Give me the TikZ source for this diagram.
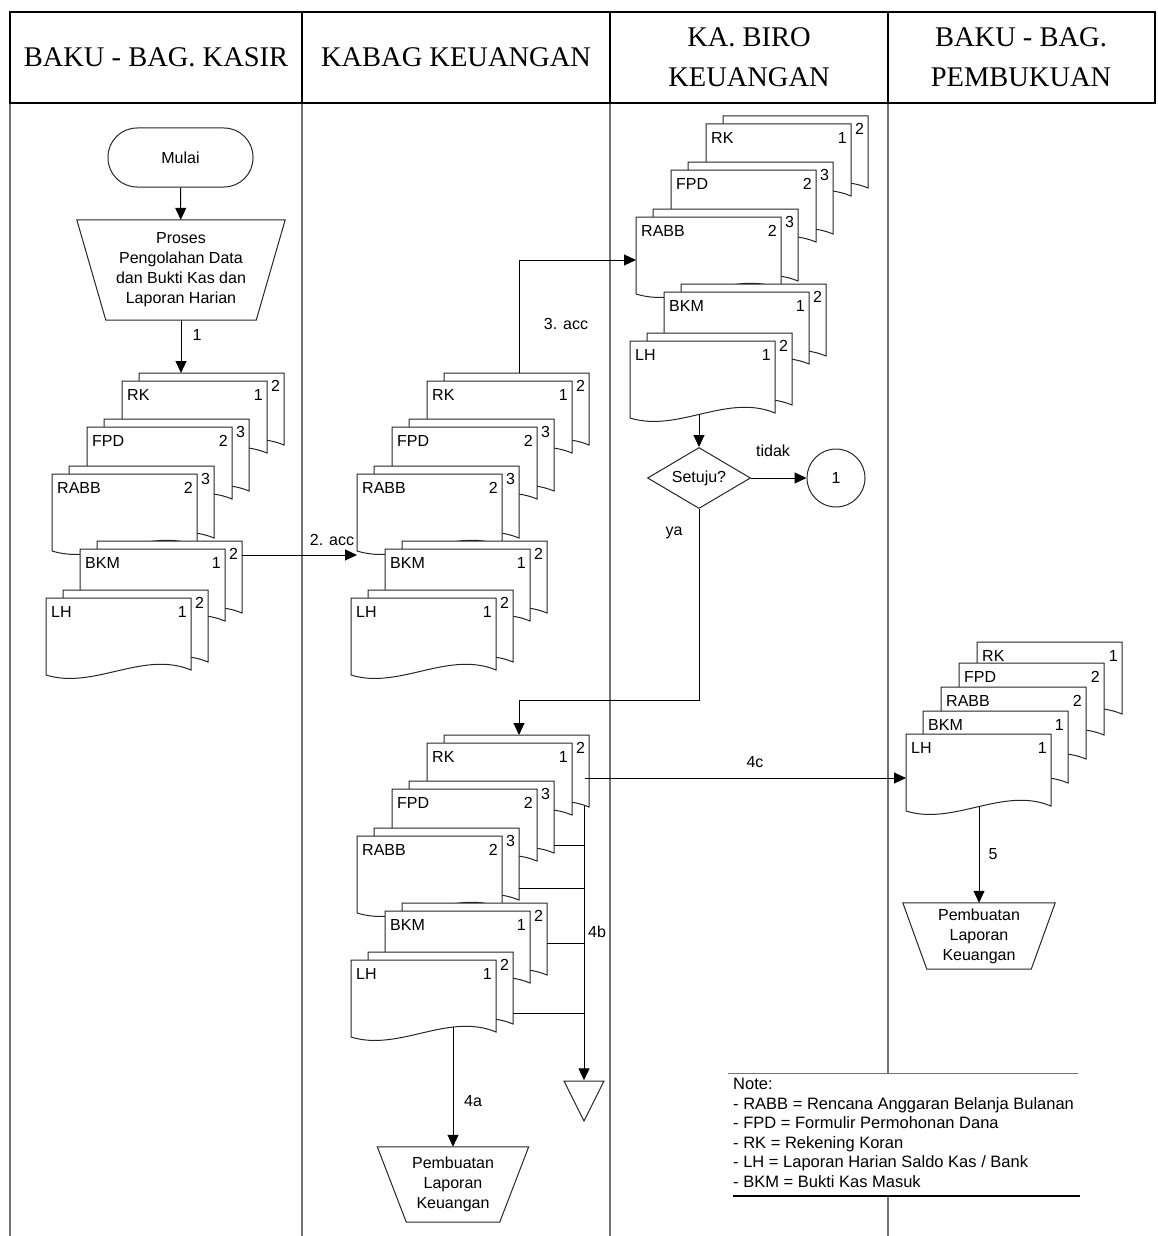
\documentclass[tikz,border=0pt]{standalone}
\usepackage{fontspec}
\setmainfont{Liberation Sans}
\newfontfamily\headfont{Liberation Serif}
\usepackage{tikz}
\usetikzlibrary{positioning}
\usetikzlibrary{arrows.meta}
\usetikzlibrary{shapes.geometric}
\pgfdeclarelayer{lanelayer}
\pgfdeclarelayer{nodelayer}
\pgfdeclarelayer{edgelayer}
\pgfsetlayers{lanelayer,nodelayer,edgelayer,main}

\tikzset{
    docline/.style={draw=black!85, line width=1pt, fill=white},
    doclabel/.style={inner sep=0pt, font=\fontsize{16}{19}\selectfont},
    flowtext/.style={inner sep=0pt, font=\fontsize{16}{20}\selectfont, align=center},
    shapeline/.style={draw=black!85, line width=1pt},
    headline/.style={draw=black, line width=1.2pt},
    lane/.style={draw=black!55, line width=1.2pt},
    headtext/.style={font=\headfont\fontsize{28.5}{40}\selectfont, align=center},
    flow/.style={draw=black, line width=1pt, -{Triangle[length=12pt, width=11pt]}},
    link/.style={draw=black, line width=1pt},
    terminal/.style={shapeline, rounded corners=29pt, minimum width=145, minimum height=59, flowtext},
    manop/.style={inner sep=0pt, flowtext},
    decision/.style={shapeline, diamond, aspect=1.69, minimum width=103, minimum height=61, flowtext},
    connector/.style={shapeline, circle, minimum size=58, flowtext},
}

% one page with wavy bottom, top left corner at (#1,#2)
\newcommand{\docpage}[4]{%
    \path[docline] (#1,#2) -- (#1+145,#2) -- (#1+145,#2+72)
        .. controls (#1+97,#2+52) and (#1+48,#2+92) .. (#1,#2+77) -- cycle;
    \node [doclabel, anchor=west] (-#3) at (#1+5, #2+14) {#3};
    \node [doclabel, anchor=east] (-#3n) at (#1+141, #2+14) {#4};
}
% page with a copy behind it
\newcommand{\doccopy}[5]{%
    \path[docline] (#1+17,#2-8) -- (#1+162,#2-8) -- (#1+162,#2+64)
        .. controls (#1+114,#2+44) and (#1+65,#2+84) .. (#1+17,#2+69) -- cycle;
    \node [doclabel] (-#3c) at (#1+153.5, #2+5) {#5};
    \docpage{#1}{#2}{#3}{#4}
}
% trapezoid round a manop node
\newcommand{\manframe}[2]{%
    \draw[shapeline] (#1.north west) -- (#1.north east)
        -- ([xshift=-#2pt]#1.south east) -- ([xshift=#2pt]#1.south west) -- cycle;
}

\tikzset{
    docstack/.pic={
        \doccopy{0}{0}{RK}{1}{2}
        \doccopy{-35}{46}{FPD}{2}{3}
        \doccopy{-70}{93}{RABB}{2}{3}
        \doccopy{-42}{168}{BKM}{1}{2}
        \doccopy{-76}{217}{LH}{1}{2}
        \coordinate (-top) at (92, -8);
        \coordinate (-out) at (120, 174);
        \coordinate (-in) at (-70, 174);
        \coordinate (-inhi) at (-70, 136);
        \coordinate (-rkb) at (157, 63);
        \coordinate (-fpdr) at (127, 102);
        \coordinate (-rabbr) at (92, 145);
        \coordinate (-bkmr) at (120, 200);
        \coordinate (-lhr) at (86, 270);
        \coordinate (-lhbot) at (-7, 290);
        \coordinate (-lhmid) at (26, 284);
    },
    docfan/.pic={
        \docpage{0}{0}{RK}{1}
        \docpage{-18}{21}{FPD}{2}
        \docpage{-36}{45}{RABB}{2}
        \docpage{-54}{69}{BKM}{1}
        \docpage{-71}{92}{LH}{1}
        \coordinate (-in) at (-71, 136);
        \coordinate (-bot) at (2, 164);
    },
}

\begin{document}
\begin{tikzpicture}[x=1pt, y=-1pt]
    \useasboundingbox (0, 0) rectangle (1157, 1236);
    \begin{pgfonlayer}{lanelayer}
        \foreach \lx in {10,302,610} \draw[lane] (\lx, 103) -- (\lx, 1236);
        \draw[lane] (888, 103) -- (888, 1073);
        \draw[lane] (888, 1196) -- (888, 1236);
        \draw[headline] (10, 12) rectangle (1155, 103);
        \foreach \lx in {302,610,888} \draw[headline] (\lx, 12) -- (\lx, 103);
        \node [headtext] (h1) at (156, 57.5) {BAKU - BAG. KASIR};
        \node [headtext] (h2) at (456, 57.5) {KABAG KEUANGAN};
        \node [headtext] (h3) at (749, 57.5) {KA. BIRO\\KEUANGAN};
        \node [headtext] (h4) at (1021, 57.5) {BAKU - BAG.\\PEMBUKUAN};
    \end{pgfonlayer}
    \begin{pgfonlayer}{nodelayer}
        \node [terminal] (start) at (180.5, 157.5) {Mulai};
        \node [manop, minimum width=208, minimum height=100] (proses) at (181, 270)
            {Proses\\Pengolahan Data\\dan Bukti Kas dan\\Laporan Harian};
        \manframe{proses}{29}
        \pic (kasir) at (122, 381) {docstack};
        \pic (kabag) at (427, 381) {docstack};
        \pic (biro) at (706, 124) {docstack};
        \pic (kabagb) at (427, 743) {docstack};
        \pic (buku) at (977, 642) {docfan};
        \node [decision] (dec) at (699, 478) {Setuju?};
        \node [connector] (conn) at (836, 478) {1};
        \node [manop, minimum width=151, minimum height=75] (lap1) at (453, 1184.5)
            {Pembuatan\\Laporan\\Keuangan};
        \manframe{lap1}{29}
        \node [manop, minimum width=152, minimum height=66] (lap2) at (979, 936)
            {Pembuatan\\Laporan\\Keuangan};
        \manframe{lap2}{24}
        \node [inner sep=0pt] (store) at (584, 1081) {};
        \draw[shapeline] (store) -- ++(20, 0) -- ++(-20, 40) -- ++(-20, -40) -- cycle;
    \end{pgfonlayer}
    \begin{pgfonlayer}{edgelayer}
        \draw[flow] (start) -- (proses);
        \draw[flow] (proses.south) -- (proses.south |- kasir-top);
        \draw[flow] (kasir-out) -- (kabag-in);
        \draw[flow] (kabag-top) |- (biro-inhi);
        \draw[flow] (biro-lhbot) -- (dec.north);
        \draw[flow] (dec.east) -- (conn.west);
        \coordinate (yabend) at (699, 700);
        \draw[flow] (dec.south) -- (yabend) -| (kabagb-top);
        \draw[flow] (kabagb-RKc.east |- buku-in) -- (buku-in);
        \draw[flow] (kabagb-rkb) -- (store);
        \draw[link] (kabagb-fpdr) -- (kabagb-fpdr -| kabagb-rkb);
        \draw[link] (kabagb-rabbr) -- (kabagb-rabbr -| kabagb-rkb);
        \draw[link] (kabagb-bkmr) -- (kabagb-bkmr -| kabagb-rkb);
        \draw[link] (kabagb-lhr) -- (kabagb-lhr -| kabagb-rkb);
        \draw[flow] (kabagb-lhmid) -- (lap1.north);
        \draw[flow] (buku-bot) -- (lap2.north);
    \end{pgfonlayer}
    \node [flowtext] (l1) at (197, 335) {1};
    \node [flowtext] (l2) at (332, 540) {2. acc};
    \node [flowtext] (l3) at (566, 324) {3. acc};
    \node [flowtext] (ltidak) at (773, 451) {tidak};
    \node [flowtext] (lya) at (674, 533) {ya};
    \node [flowtext] (l4c) at (755, 762) {4c};
    \node [flowtext] (l4b) at (597, 932) {4b};
    \node [flowtext] (l4a) at (473, 1101) {4a};
    \node [flowtext] (l5) at (993, 854) {5};
    % note
    \draw[lane, line width=1pt] (728, 1073) -- (1078, 1073);
    \node [flowtext, align=left, font=\fontsize{16.5}{19.5}\selectfont, anchor=north west] (note) at (733, 1078)
        {Note:\\- RABB = Rencana Anggaran Belanja Bulanan\\- FPD = Formulir Permohonan Dana\\- RK = Rekening Koran\\- LH = Laporan Harian Saldo Kas / Bank\\- BKM = Bukti Kas Masuk};
    \draw[draw=black, line width=2pt] (733, 1196) -- (1080, 1196);
\end{tikzpicture}
\end{document}
